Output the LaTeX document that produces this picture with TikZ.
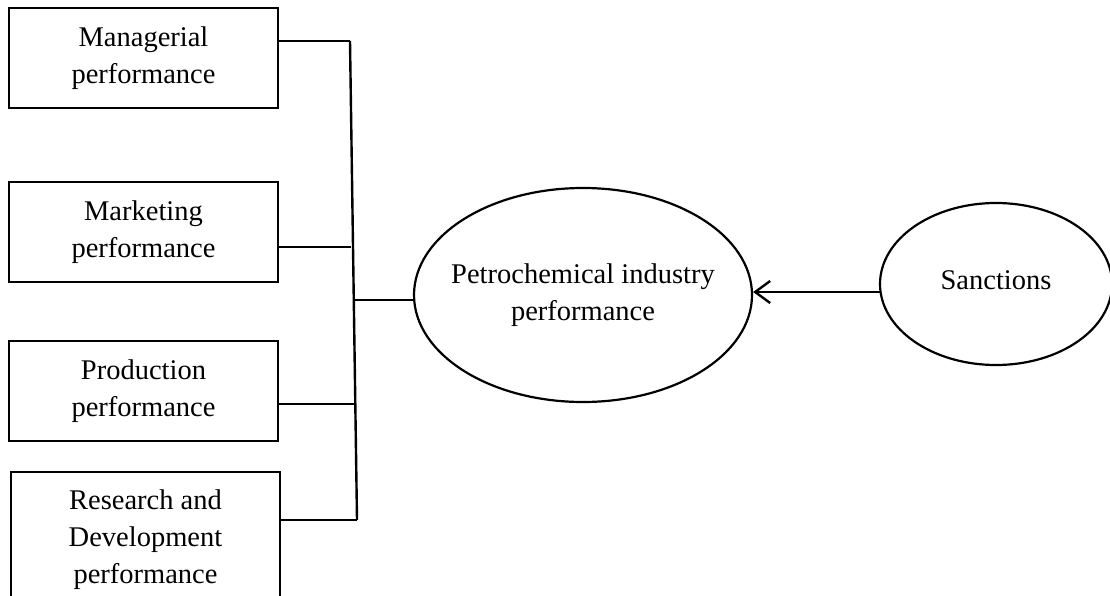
\documentclass[tikz,border=0pt]{standalone}
\usepackage{fontspec}
\setmainfont{Liberation Serif}
\usetikzlibrary{shapes.geometric,arrows.meta}

\begin{document}
\begin{tikzpicture}[x=1pt,y=-1pt,
    box/.style={draw,line width=1.2pt,minimum width=269pt,minimum height=100pt,
      inner sep=0pt,align=center,font=\fontsize{28.5}{37}\selectfont},
    oval/.style={draw,ellipse,line width=2.2pt,inner sep=0pt,align=center,
      font=\fontsize{28.5}{37}\selectfont},
    link/.style={line width=2.4pt}]
  \useasboundingbox (0,0) rectangle (1110,596);
  \clip (0,0) rectangle (1110,596);

  % Cajas de la izquierda
  \node[box] (mgmt) at (143.5,58) {Managerial\\performance};
  \node[box] (mkt)  at (143.5,232) {Marketing\\performance};
  \node[box] (prod) at (143.5,391) {Production\\performance};
  \node[box,minimum height=136pt] (rnd) at (145.5,540) {Research and\\Development\\performance};

  % Elipses
  \node[oval,inner xsep=-20pt,minimum width=338pt,minimum height=214pt] (petro) at (583,295)
    {Petrochemical industry\\performance};
  \node[oval,minimum width=232pt,minimum height=162pt] (sanc) at (996,284)
    {\raisebox{7pt}{Sanctions}};

  % Barra vertical que junta las cajas
  \coordinate (b1) at (350,41);
  \coordinate (b2) at (351,247);
  \coordinate (b3) at (355,404);
  \coordinate (b4) at (357,520);
  \coordinate (b0) at (353,300);
  \draw[link] (b1) -- (b4);
  \draw[link] (mgmt.east |- b1) -- (b1);
  \draw[link] (mkt.east |- b2) -- (b2);
  \draw[link] (prod.east |- b3) -- (b3);
  \draw[link] (rnd.east |- b4) -- (b4);
  \draw[link] (b0) -- (b0 -| petro.west);

  % Flecha de sanciones
  \coordinate (s0) at (880,292);
  \draw[link,-{Straight Barb[length=15pt,width=22pt]}] (s0) -- (s0 -| petro.east);
\end{tikzpicture}
\end{document}
